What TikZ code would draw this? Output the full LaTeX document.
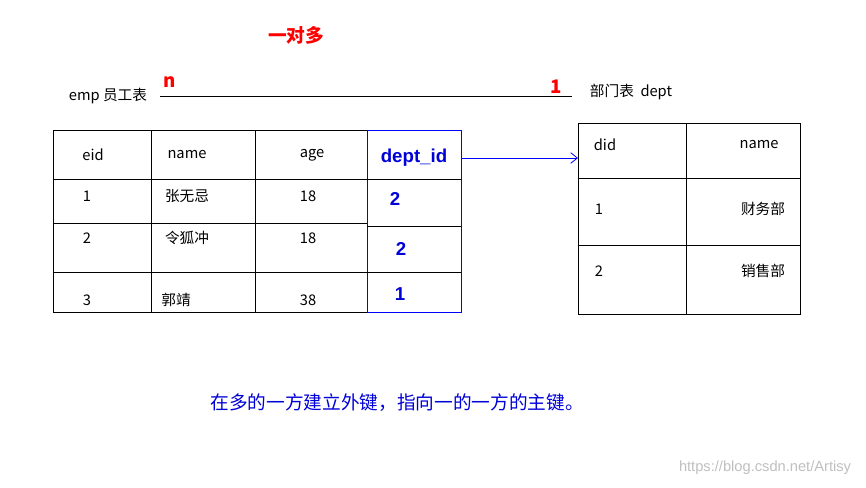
\documentclass[tikz,border=0pt]{standalone}
\usepackage{fontspec}
\setmainfont{Liberation Sans}
\newfontfamily\cjk{Noto Sans CJK SC}
\usetikzlibrary{arrows.meta}
\tikzset{
  txt/.style={font=\cjk\fontsize{11}{13}\selectfont, inner sep=0pt},
  redb/.style={font=\cjk\bfseries\fontsize{14}{16}\selectfont, text=red, inner sep=0pt},
  blueb/.style={font=\bfseries\fontsize{14}{16}\selectfont, text=blue!85!black, inner sep=0pt},
  grid/.style={draw=black, line width=0.6pt}
}
\begin{document}
\begin{tikzpicture}[x=0.75pt, y=-0.75pt]
    \useasboundingbox (0,0) rectangle (866,487);

    % Title
    \node [redb] (title) at (296,35) {一对多};
    \node [txt] (emp) at (108,96) {emp 员工表};
    \node [redb] (n) at (170,82) {n};
    \node [redb] (one) at (556,87) {1};
    \node [txt] (dept) at (631,92) {部门表~~dept};
    \coordinate (la) at (160,96);
    \coordinate (lb) at (572,96);
    \draw [line width=0.6pt] (la) -- (lb);

    % Employee table
    \draw [grid] (53,130) rectangle (367,312);
    \foreach \x in {151, 255} {
      \draw [grid] (\x,130) -- (\x,312);
    }
    \foreach \y in {179, 223, 272} {
      \draw [grid] (53,\y) -- (367,\y);
    }
    \draw [draw=blue, line width=0.6pt] (367,130) rectangle (461,312);
    \foreach \y in {179, 226, 272} {
      \draw [grid] (367,\y) -- (461,\y);
    }
    \node [txt] (h1) at (93,155) {eid};
    \node [txt] (h2) at (187,155) {name};
    \node [txt] (h3) at (312,155) {age};
    \node [blueb] (fk) at (414,158) {dept\_id};
    \node [txt] (e1) at (87,196) {1};
    \node [txt] (n1) at (187,196) {张无忌};
    \node [txt] (a1) at (308,196) {18};
    \node [blueb] (d1) at (395,199) {2};
    \node [txt] (e2) at (87,238) {2};
    \node [txt] (n2) at (187,238) {令狐冲};
    \node [txt] (a2) at (308,238) {18};
    \node [blueb] (d2) at (401,249) {2};
    \node [txt] (e3) at (87,300) {3};
    \node [txt] (n3) at (176,300) {郭靖};
    \node [txt] (a3) at (308,300) {38};
    \node [blueb] (d3) at (400,294) {1};

    % Department table
    \draw [grid] (578,123) rectangle (800,314);
    \draw [grid] (686,123) -- (686,314);
    \foreach \y in {178, 245} {
      \draw [grid] (578,\y) -- (800,\y);
    }
    \node [txt] (k1) at (605,145) {did};
    \node [txt] (k2) at (759,145) {name};
    \node [txt] (i1) at (599,209) {1};
    \node [txt] (m1) at (763,209) {财务部};
    \node [txt] (i2) at (599,271) {2};
    \node [txt] (m2) at (763,271) {销售部};

    % Reference
    \coordinate (src) at (461,158);
    \coordinate (dst) at (578,158);
    \draw [blue, line width=0.6pt, -{Straight Barb[length=5pt, width=8pt]}] (src) -- (dst);

    \node [txt, text=blue!85!black, font=\cjk\fontsize{14}{16}\selectfont] (note) at (397,403)
      {在多的一方建立外键，指向一的一方的主键。};
    \node [txt, text=black!25, font=\fontsize{11}{13}\selectfont] (mark) at (765,468)
      {https://blog.csdn.net/Artisy};
\end{tikzpicture}
\end{document}
